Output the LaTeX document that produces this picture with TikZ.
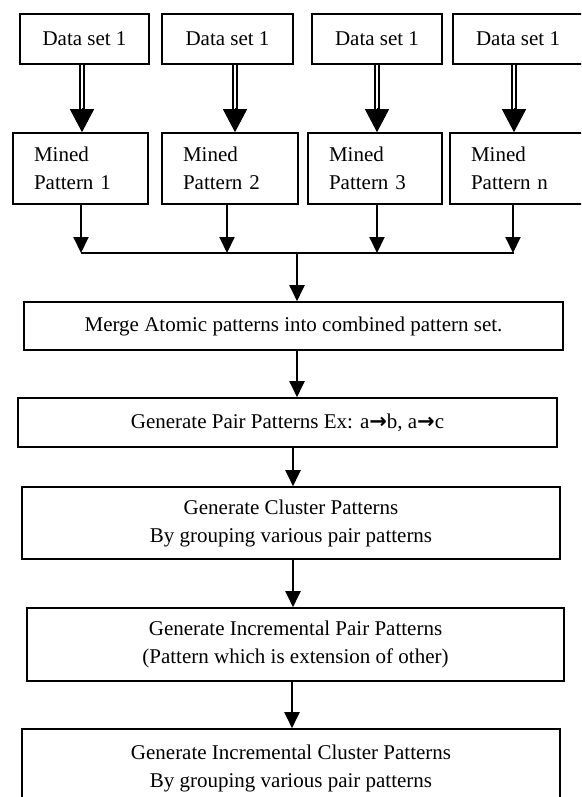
\documentclass[tikz,border=0pt]{standalone}
\usepackage{fontspec}
\setmainfont{Liberation Serif}
\newfontfamily\arrowfont{DejaVu Sans}
\usetikzlibrary{arrows.meta}
\tikzset{
  boxed/.style={draw, line width=1.6pt, inner sep=0pt, font=\fontsize{21}{28}\selectfont},
  databox/.style={boxed, minimum height=50pt, minimum width=#1},
  minedbox/.style={boxed, inner xsep=21pt, text width=#1, align=left, minimum height=71pt},
  stepbox/.style={boxed, align=center, minimum width=#1},
  sarrow/.style={line width=2pt, -{Triangle[length=16pt,width=15pt]}},
  dshaft/.style={double, line width=1.8pt, double distance=2.8pt},
  bighead/.style={line width=1pt, -{Triangle[length=23pt,width=24pt]}},
  joinline/.style={line width=2pt}
}
\newcommand{\bigarrow}{{\arrowfont\bfseries →}}
\begin{document}
\begin{tikzpicture}[x=1pt,y=-1pt]
\path[use as bounding box] (0,0) rectangle (581,797);
\clip (0,0) rectangle (581,797);

% data boxes
\node[databox=129pt] (d1) at (84.5,39) {Data set 1};
\node[databox=131pt] (d2) at (227.5,39) {Data set 1};
\node[databox=130pt] (d3) at (377,39) {Data set 1};
\node[databox=130pt] (d4) at (518,39) {Data set 1};

% mined boxes
\node[minedbox=93pt] (m1) at (80.5,168.5) {Mined\\Pattern 1};
\node[minedbox=94pt] (m2) at (230,168.5) {Mined\\Pattern 2};
\node[minedbox=92pt] (m3) at (375,168.5) {Mined\\Pattern 3};
\node[minedbox=94pt] (m4) at (518,168.5) {Mined\\Pattern n};

% arrow columns
\coordinate (a1) at (82,0);
\coordinate (a2) at (235,0);
\coordinate (a3) at (377,0);
\coordinate (a4) at (514,0);

\foreach \i in {1,2,3,4}{
  \draw[dshaft, shorten >=21pt] (a\i |- d\i.south) -- (a\i |- m\i.north);
  \draw[bighead] ([yshift=24pt]a\i |- m\i.north) -- (a\i |- m\i.north);
}

% join
\coordinate (j1) at (81,253);
\coordinate (j2) at (227,253);
\coordinate (j3) at (377,253);
\coordinate (j4) at (513,253);
\coordinate (jc) at (297,253);
\foreach \i in {1,2,3,4}{
  \draw[sarrow] (m\i.south -| j\i) -- (j\i);
}
\draw[joinline] (j1) -- ([xshift=1pt]j4);

% process boxes
\node[stepbox=539pt, minimum height=48pt] (merge) at (293.5,326)
  {Merge Atomic patterns into combined pattern set.};
\node[stepbox=539pt, minimum height=49pt] (pair) at (287.5,422.5)
  {Generate Pair Patterns Ex: a\bigarrow b, a\bigarrow c};
\node[stepbox=538pt, minimum height=72pt] (cluster) at (291,523)
  {Generate Cluster Patterns\\By grouping various pair patterns};
\node[stepbox=537pt, minimum height=73pt] (incpair) at (295.5,644.5)
  {Generate Incremental Pair Patterns\\(Pattern which is extension of other)};
\node[stepbox=538pt, minimum height=79pt] (inccluster) at (291,768.5)
  {Generate Incremental Cluster Patterns\\By grouping various pair patterns};

\coordinate (k1) at (293,0);
\coordinate (k2) at (292,0);
\draw[sarrow] (jc) -- (jc |- merge.north);
\draw[sarrow] (jc |- merge.south) -- (jc |- pair.north);
\draw[sarrow] (k1 |- pair.south) -- (k1 |- cluster.north);
\draw[sarrow] (k1 |- cluster.south) -- (k1 |- incpair.north);
\draw[sarrow] (k2 |- incpair.south) -- (k2 |- inccluster.north);
\end{tikzpicture}
\end{document}
